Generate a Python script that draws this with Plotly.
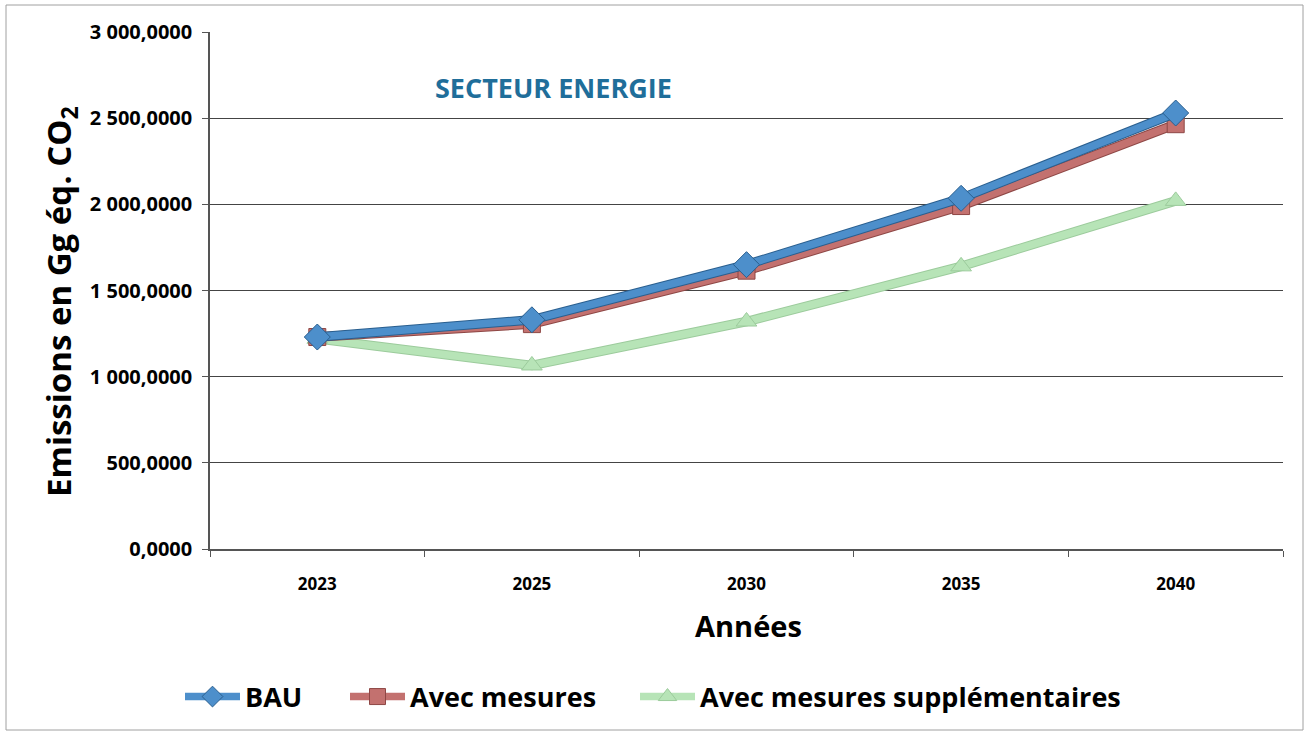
import plotly.graph_objects as go

years = ["2023", "2025", "2030", "2035", "2040"]
bau = [1230, 1330, 1650, 2035, 2530]
avec = [1230, 1305, 1615, 1990, 2465]
supp = [1220, 1065, 1320, 1640, 2020]

y_ticks = [0, 500, 1000, 1500, 2000, 2500, 3000]
y_labels = ["0,0000", "500,0000", "1 000,0000", "1 500,0000", "2 000,0000", "2 500,0000", "3 000,0000"]

FONT = "Open Sans"

W, H = 1311, 736
PL, PR, PT, PB = 210, 1283, 32, 549  # plot area in window pixels
PW, PH = PR - PL, PB - PT


def px(x):
    return (x - PL) / PW


def py(y):
    return (PB - y) / PH


fig = go.Figure()
series = [
    ("Avec mesures supplémentaires", supp, "#B7E4B7", "#9CCB9C", "triangle-up", 18, "legend3"),
    ("Avec mesures", avec, "#C3716F", "#8E4745", "square", 17, "legend2"),
    ("BAU", bau, "#4D8FCB", "#2A5F8F", "diamond", 20, "legend"),
]
for name, vals, col, edge, sym, sz, lg in series:
    fig.add_trace(go.Scatter(
        x=years, y=vals, mode="lines", showlegend=False, hoverinfo="skip",
        line=dict(color=edge, width=9.5),
    ))
    fig.add_trace(go.Scatter(
        x=years, y=vals, name=name, mode="lines+markers", legend=lg,
        line=dict(color=col, width=7.5),
        marker=dict(symbol=sym, size=sz, color=col, line=dict(color=edge, width=1)),
    ))

leg_common = dict(orientation="h", yanchor="middle", xanchor="left",
                  font=dict(size=27, family=FONT, color="black", weight="bold"),
                  bgcolor="rgba(0,0,0,0)", itemwidth=55)

fig.update_layout(
    width=W, height=H,
    margin=dict(l=PL, r=W - PR, t=PT, b=H - PB),
    paper_bgcolor="white", plot_bgcolor="white",
    font=dict(family=FONT, color="black"),
    showlegend=True,
    legend=dict(x=px(180), y=py(697), **leg_common),
    legend2=dict(x=px(345), y=py(697), **leg_common),
    legend3=dict(x=px(635), y=py(697), **leg_common),
    xaxis=dict(
        type="category", showgrid=False, showline=True, linecolor="#555555", linewidth=1.5,
        ticks="outside", tickson="boundaries", ticklen=6, tickcolor="#555555",
        tickfont=dict(size=17, family=FONT, color="black", weight="bold"),
        ticklabelstandoff=19,
        range=[-0.5, 4.5],
    ),
    yaxis=dict(
        range=[0, 3000], tickvals=y_ticks, ticktext=y_labels,
        showgrid=True, gridcolor="#444444", gridwidth=1,
        showline=True, linecolor="#555555", linewidth=1.5,
        ticks="outside", ticklen=6, tickcolor="#555555",
        tickfont=dict(size=20, family=FONT, color="black", weight="bold"),
        ticklabelstandoff=6,
        zeroline=False,
    ),
    annotations=[
        dict(text="SECTEUR ENERGIE", xref="paper", yref="paper", x=px(433), y=py(88),
             xanchor="left", yanchor="middle", showarrow=False,
             font=dict(size=27, family=FONT, color="#1F6E9A", weight="bold")),
        dict(text="Années", xref="paper", yref="paper", x=px(748), y=py(625),
             xanchor="center", yanchor="middle", showarrow=False,
             font=dict(size=29, family=FONT, color="black", weight="bold")),
        dict(text="Emissions en Gg éq. CO<sub>2</sub>", xref="paper", yref="paper",
             x=px(60), y=py(302), textangle=-90,
             xanchor="center", yanchor="middle", showarrow=False,
             font=dict(size=33, family=FONT, color="black", weight="bold")),
    ],
    shapes=[
        dict(type="rect", xref="paper", yref="paper",
             x0=px(6), x1=px(1303), y0=py(730), y1=py(5),
             line=dict(color="#A0A0A0", width=1), fillcolor="rgba(0,0,0,0)", layer="below"),
    ],
)

fig.write_html("out.html", config={"displayModeBar": False},
               post_script="document.body.style.margin='0px';")
